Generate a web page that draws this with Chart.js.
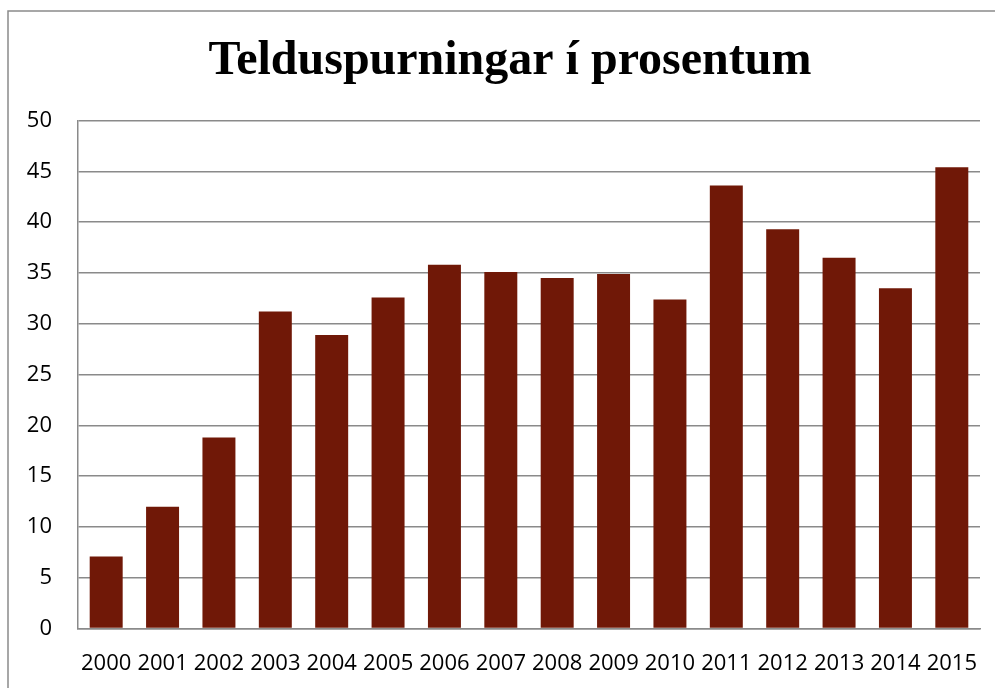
<!DOCTYPE html>
<html>
<head>
<meta charset="utf-8">
<script src="https://cdn.jsdelivr.net/npm/chart.js@4"></script>
<style>
  html, body { margin: 0; padding: 0; background: #fff; }
  #wrap { width: 995px; height: 688px; }
</style>
</head>
<body>
<div id="wrap"><canvas id="chart" width="995" height="688"></canvas></div>
<script>
const years = ['2000','2001','2002','2003','2004','2005','2006','2007',
               '2008','2009','2010','2011','2012','2013','2014','2015'];
const percent = [7.1, 12.0, 18.8, 31.2, 28.9, 32.6, 35.8, 35.1,
                 34.5, 34.9, 32.4, 43.6, 39.3, 36.5, 33.5, 45.4];

// outer frame, only top and left edge fall inside the picture
const frame = {
    id: 'frame',
    afterLayout(chart) {
        // widen the y axis box to the left so its labels are not clipped
        chart.scales.y.left = 10;
    },
    beforeDraw(chart) {
        const c = chart.ctx;
        c.save();
        c.fillStyle = '#fff';
        c.fillRect(0, 0, chart.width, chart.height);
        c.strokeStyle = '#8a8a8a';
        c.lineWidth = 1.5;
        c.strokeRect(8, 11, chart.width + 20, chart.height + 20);
        c.restore();
    }
};

const ctx = document.getElementById('chart');
const myChart = new Chart(ctx, {
    type: 'bar',
    data: {
        labels: years,
        datasets: [{
            label: 'Telduspurningar',
            data: percent,
            backgroundColor: '#701807',
            borderWidth: 0,
            categoryPercentage: 1,
            barPercentage: 0.585
        }]
    },
    options: {
        responsive: false,
        animation: false,
        layout: { padding: { left: 40, right: 15, top: 15, bottom: -11 } },
        plugins: {
            legend: { display: false },
            tooltip: { enabled: false },
            title: {
                display: true,
                text: 'Telduspurningar í prosentum',
                color: '#000',
                font: { family: 'Liberation Serif', size: 48, weight: 'bold' },
                padding: { top: 18, bottom: 30 }
            }
        },
        scales: {
            x: {
                afterFit(scale) { scale.paddingLeft = 0; scale.paddingRight = 0; },
                grid: { display: false, drawTicks: false },
                border: { color: '#8a8a8a', width: 1.5 },
                ticks: {
                    color: '#000',
                    font: { family: 'Open Sans', size: 22 },
                    padding: 22,
                    maxRotation: 0,
                    autoSkip: false
                }
            },
            y: {
                min: 0,
                max: 50,
                afterFit(scale) { scale.width = 38; },
                grid: { color: '#8a8a8a', lineWidth: 1.5, drawTicks: false },
                border: { color: '#8a8a8a', width: 1.5 },
                ticks: {
                    stepSize: 5,
                    color: '#000',
                    font: { family: 'Open Sans', size: 22 },
                    padding: 26
                }
            }
        }
    },
    plugins: [frame]
});
</script>
</body>
</html>
